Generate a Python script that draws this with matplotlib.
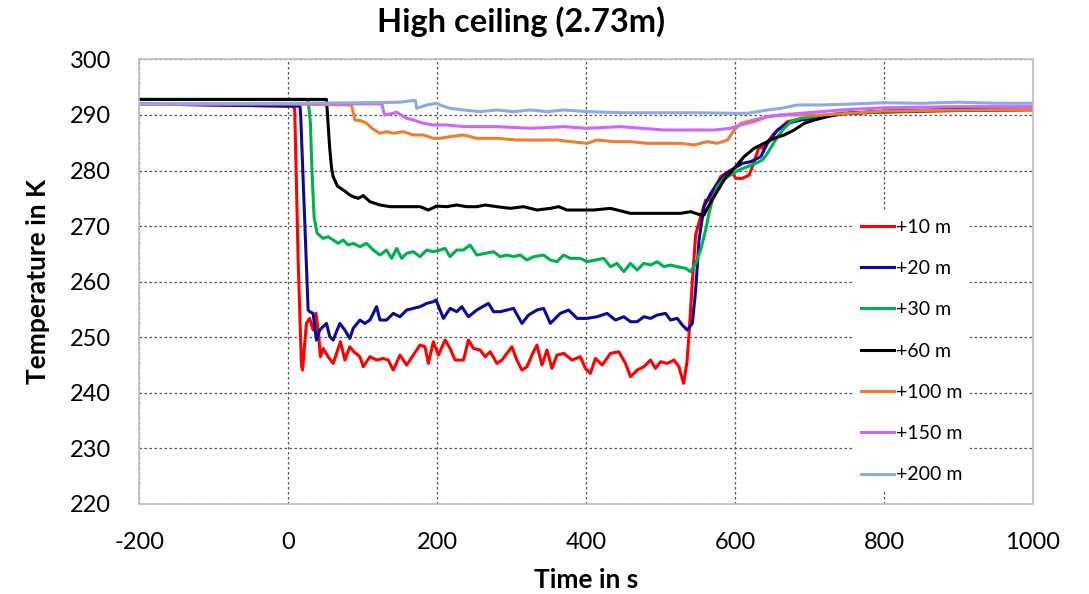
import numpy as np
import matplotlib
matplotlib.use("Agg")
import matplotlib.pyplot as plt

plt.rcParams['font.family'] = ['Lato', 'DejaVu Sans']
plt.rcParams['axes.unicode_minus'] = False

# time (s) and temperature (K)
t_10 = [-200, -100, 0, 7, 9, 13.5, 18, 19.5, 24.7, 29, 33.7, 37.5, 40.5, 43.5, 47.1, 53.9, 60.6, 70.5,
        76.3, 83, 88.4, 96.5, 101, 110, 118.9, 127.9, 134.6, 141.3, 150.3, 159.3, 168.2, 177.2, 183.9,
        188.4, 195.1, 201.9, 210.8, 217.6, 224.3, 235.5, 242.2, 249, 257.9, 264.7, 271.4, 280.4, 287.1,
        300.5, 307.2, 314, 320.7, 327.4, 334.1, 340.9, 347.6, 354.3, 361, 370, 381.2, 392.4, 399.2,
        405.9, 412.6, 421.6, 432.8, 444, 453, 459.7, 468.7, 477.7, 486.6, 493.3, 500.1, 509, 518,
        524.7, 531, 535.5, 538.5, 542.7, 547.2, 553.9, 560.6, 565.1, 569.6, 580.8, 594.3, 601, 610,
        619, 623.4, 627.9, 632.4, 636.9, 652.6, 670.5, 693, 715.4, 742.3, 800, 900, 1000]
T_10 = [292.0, 291.8, 291.6, 291.6, 291.0, 264.5, 245.0, 244.1, 252.5, 253.4, 251.3, 254.3, 251.3, 246.5,
        248.0, 246.5, 245.3, 249.2, 245.9, 248.3, 247.4, 246.5, 244.7, 246.5, 245.9, 246.2, 245.9,
        244.1, 246.8, 245.0, 246.8, 248.6, 248.3, 245.3, 249.2, 246.8, 249.5, 248.0, 245.9, 245.9,
        249.5, 248.0, 247.7, 246.5, 247.4, 245.3, 245.9, 248.3, 245.9, 244.1, 244.7, 246.8, 248.6,
        245.0, 247.7, 244.4, 246.8, 247.1, 245.9, 246.5, 244.4, 243.5, 246.2, 245.0, 247.1, 247.4,
        245.3, 242.9, 244.1, 244.7, 245.9, 244.4, 245.6, 245.3, 245.9, 244.7, 241.7, 245.5, 251.0,
        260.0, 268.5, 271.7, 274.7, 274.7, 275.9, 278.9, 280.1, 278.6, 278.6, 279.2, 280.7, 282.5,
        284.3, 284.0, 286.7, 288.8, 289.4, 289.7, 290.3, 290.5, 290.8, 290.9]

t_20 = [-200, -100, 0, 16, 17, 27, 29.2, 33.7, 38.2, 42.6, 51.6, 56.1, 60.6, 69.6, 76.3, 83, 87.5, 96.5,
        103.2, 109.9, 118.9, 123.4, 132.3, 141.3, 150.3, 159.3, 168.2, 177.2, 186.2, 195.1, 198.7,
        208.6, 217.6, 226.5, 233.3, 242.2, 253.4, 269.1, 275.9, 284.8, 293.8, 302.7, 314, 322.9,
        334.1, 343.1, 352.1, 365.5, 376.7, 388, 401.4, 414.9, 428.3, 439.5, 450.7, 459.7, 468.7,
        477.7, 486.6, 495.6, 506.8, 513.5, 522.5, 529.2, 536, 542.7, 547.2, 551.7, 558.4, 567.4,
        576.3, 585.3, 598.8, 610, 621.2, 634.6, 643.6, 657.1, 670.5, 688.5, 706.4, 742.3, 800, 900, 1000]
T_20 = [292.0, 291.8, 291.6, 291.6, 290.0, 254.9, 254.6, 254.3, 249.5, 251.3, 252.5, 250.1, 249.5, 252.5,
        251.3, 249.8, 251.6, 253.1, 252.5, 253.1, 255.5, 253.1, 253.1, 254.3, 253.7, 254.9, 255.2,
        255.5, 256.1, 256.4, 256.7, 253.4, 255.2, 254.6, 255.5, 253.7, 254.9, 256.1, 254.6, 254.6,
        254.9, 255.2, 252.5, 254.0, 254.9, 255.2, 252.5, 254.3, 254.9, 253.4, 253.4, 253.7, 254.3,
        253.1, 253.7, 252.8, 252.8, 253.7, 253.4, 254.0, 254.3, 253.1, 253.4, 252.2, 251.3, 252.5,
        258.5, 267.5, 273.5, 275.9, 277.7, 279.2, 280.4, 281.3, 281.6, 282.5, 284.9, 287.3, 288.5,
        289.1, 289.4, 290.2, 290.6, 290.9, 291.0]

t_30 = [-200, 0, 27, 30.1, 32.3, 35, 39.1, 47.1, 53.9, 60.6, 67.3, 74, 80.8, 87.5, 96.5, 105.4, 114.4,
        123.4, 132.3, 139.1, 145.8, 152.5, 159.3, 168.2, 177.2, 186.2, 195.1, 204.1, 210.8, 217.5,
        226.5, 235.5, 244.4, 253.4, 264.6, 275.8, 284.8, 293.8, 302.7, 311.7, 320.7, 329.6, 343.1,
        352.1, 361, 370, 378.9, 392.4, 401.4, 412.6, 423.8, 432.8, 441.7, 450.7, 459.7, 468.6, 477.6,
        486.6, 495.6, 504.5, 513.5, 522.5, 533.7, 540.4, 547.1, 553.9, 560.6, 565.1, 569.6, 576.3,
        585.3, 594.3, 605.5, 616.7, 628, 636.9, 643.6, 650.3, 657.1, 666, 675, 688.5, 706.4, 742.3,
        800, 900, 1000]
T_30 = [292.8, 292.8, 292.8, 288.5, 279.5, 271.7, 268.7, 267.8, 268.1, 267.5, 266.9, 267.5, 266.6, 266.9,
        266.3, 266.9, 265.7, 264.8, 265.7, 264.2, 266.0, 264.2, 265.1, 265.4, 264.5, 265.7, 265.4,
        265.7, 266.0, 264.5, 265.7, 265.7, 266.6, 264.8, 265.1, 265.4, 264.5, 264.8, 264.5, 264.8,
        263.9, 264.5, 264.8, 263.9, 263.6, 264.8, 264.2, 264.2, 263.6, 263.9, 264.2, 262.7, 263.3,
        261.8, 263.3, 262.1, 263.3, 263.0, 263.6, 262.7, 263.0, 262.7, 262.4, 261.8, 263.3, 265.7,
        269.3, 272.3, 274.7, 277.1, 278.6, 279.2, 280.1, 280.7, 281.3, 281.9, 283.1, 284.6, 286.1,
        287.6, 288.8, 289.4, 289.7, 290.3, 290.6, 290.9, 291.0]

t_60 = [-200, 0, 51.6, 53, 56, 58.4, 60.6, 66.4, 76.3, 83, 87.5, 94.2, 100.9, 110, 123.4, 136.8, 150.3,
        163.7, 177.2, 188.4, 199.6, 213, 226.5, 239.9, 253.4, 264.6, 280.3, 298.2, 316.2, 334.1,
        352.1, 363.3, 374.5, 388, 410.3, 432.8, 459.7, 482.1, 504.5, 527, 540.5, 553.9, 558.4, 562.9,
        571.9, 585.3, 598.8, 612.2, 625.7, 639.1, 652.6, 666, 679.5, 693, 706.4, 724.3, 742.3, 800,
        900, 1000]
T_60 = [292.8, 292.8, 292.8, 290.0, 284.0, 280.5, 278.9, 277.2, 276.3, 275.6, 275.3, 275.0, 275.5, 274.4,
        273.8, 273.5, 273.5, 273.5, 273.5, 272.9, 273.6, 273.5, 273.8, 273.5, 273.5, 273.8, 273.5,
        273.2, 273.5, 272.9, 273.2, 273.5, 272.9, 272.9, 272.9, 273.2, 272.3, 272.3, 272.3, 272.3,
        272.6, 272.0, 272.0, 273.2, 275.3, 278.3, 280.4, 282.5, 284.0, 284.9, 285.8, 286.4, 287.3,
        288.5, 289.1, 289.7, 290.2, 290.7, 291.0, 291.0]

t_100 = [-200, 0, 85.3, 89.7, 96.5, 100.9, 105.4, 112.6, 123.4, 132.3, 141.3, 154.8, 168.2, 181.7, 195.1,
         204, 217.5, 235.5, 253.4, 280.3, 307.2, 334.1, 361, 379, 401.4, 414.8, 437.2, 459.7, 482.1,
         504.5, 527, 544.9, 562.8, 576.3, 590, 599, 607.7, 625.7, 643.6, 661.6, 688.5, 715.4, 742.3,
         800, 900, 1000]
T_100 = [292.0, 292.0, 291.8, 289.1, 289.0, 288.8, 288.5, 287.6, 286.7, 287.0, 286.7, 287.0, 286.4, 286.4,
         285.8, 285.8, 286.1, 286.4, 285.8, 285.8, 285.5, 285.5, 285.5, 285.2, 284.9, 285.5, 285.2,
         285.2, 284.9, 284.9, 284.9, 284.6, 285.2, 284.9, 285.5, 287.3, 288.5, 289.1, 289.7, 290.0,
         290.0, 290.0, 290.2, 290.7, 290.9, 291.0]

t_150 = [-200, 0, 126, 129.6, 141.3, 145.8, 159.3, 168.2, 181.7, 195.1, 204, 213, 235.5, 280.3, 325.2,
         370, 401.4, 446.2, 504.5, 549.4, 571.9, 594.3, 607.7, 625.7, 643.6, 661.6, 688.5, 715.4,
         742.3, 800, 900, 1000]
T_150 = [291.9, 292.0, 292.0, 290.0, 290.3, 290.5, 289.4, 289.1, 288.5, 288.2, 288.2, 288.2, 287.9,
         287.9, 287.6, 287.9, 287.6, 287.9, 287.3, 287.3, 287.3, 287.6, 288.2, 288.8, 289.7, 290.0,
         290.3, 290.6, 290.9, 291.3, 291.5, 291.5]

t_200 = [-200, 0, 100, 150, 168, 171, 172.7, 186.2, 199.6, 204, 217.5, 235.5, 257.9, 280.3, 302.7, 325.2,
         347.6, 370, 401.4, 450, 500, 550, 598.8, 616.7, 643.6, 661.6, 684, 715.4, 742.3, 800, 850,
         900, 950, 1000]
T_200 = [292.0, 292.1, 292.2, 292.3, 292.6, 292.6, 291.2, 291.8, 292.1, 291.8, 291.2, 290.9, 290.6,
         290.9, 290.6, 290.9, 290.6, 290.9, 290.6, 290.4, 290.4, 290.4, 290.3, 290.3, 290.9, 291.2,
         291.8, 291.8, 291.9, 292.2, 292.1, 292.3, 292.1, 292.1]

labels = ['+10 m', '+20 m', '+30 m', '+60 m', '+100 m', '+150 m', '+200 m']
colors = ['#ff0000', '#0a0a96', '#00b050', '#000000', '#ed7d31', '#cc66ff', '#8faadc']
series = [(t_10, T_10), (t_20, T_20), (t_30, T_30), (t_60, T_60),
          (t_100, T_100), (t_150, T_150), (t_200, T_200)]

fig = plt.figure(figsize=(10.89, 5.94), dpi=100)
ax = fig.add_axes([139 / 1089, 1 - 504 / 594, (1033 - 139) / 1089, (504 - 59.4) / 594])

for (t, T), lab, col in zip(series, labels, colors):
    ax.plot(t, T, color=col, linewidth=2.2, label=lab)

ax.set_xlim(-200, 1000)
ax.set_ylim(220, 300)
ax.set_xticks(np.arange(-200, 1001, 200))
ax.set_yticks(np.arange(220, 301, 10))
ax.grid(True, color='#555555', linestyle=(0, (2, 2)), linewidth=0.9)
ax.set_axisbelow(True)
for s in ax.spines.values():
    s.set_color('#bfbfbf')
    s.set_linewidth(1.2)
ax.tick_params(length=0, labelsize=17, pad=20)

ax.set_xlabel('Time in s', fontsize=19, fontweight='bold', labelpad=11)
ax.set_ylabel('Temperature in K', fontsize=19, fontweight='bold', labelpad=14)
fig.text(521 / 1089, 1 - 22 / 594, 'High ceiling (2.73m)', fontsize=23.5, fontweight='bold',
         ha='center', va='center')

leg = ax.legend(loc='center left', bbox_to_anchor=(853 / 1089, 1 - 351 / 594),
                bbox_transform=fig.transFigure, fontsize=14, frameon=True, framealpha=1,
                edgecolor='none', facecolor='white', fancybox=False, borderpad=0.4,
                handlelength=1.7, handletextpad=0.1, labelspacing=1.25, borderaxespad=0)

fig.savefig('out.png', dpi=100)
